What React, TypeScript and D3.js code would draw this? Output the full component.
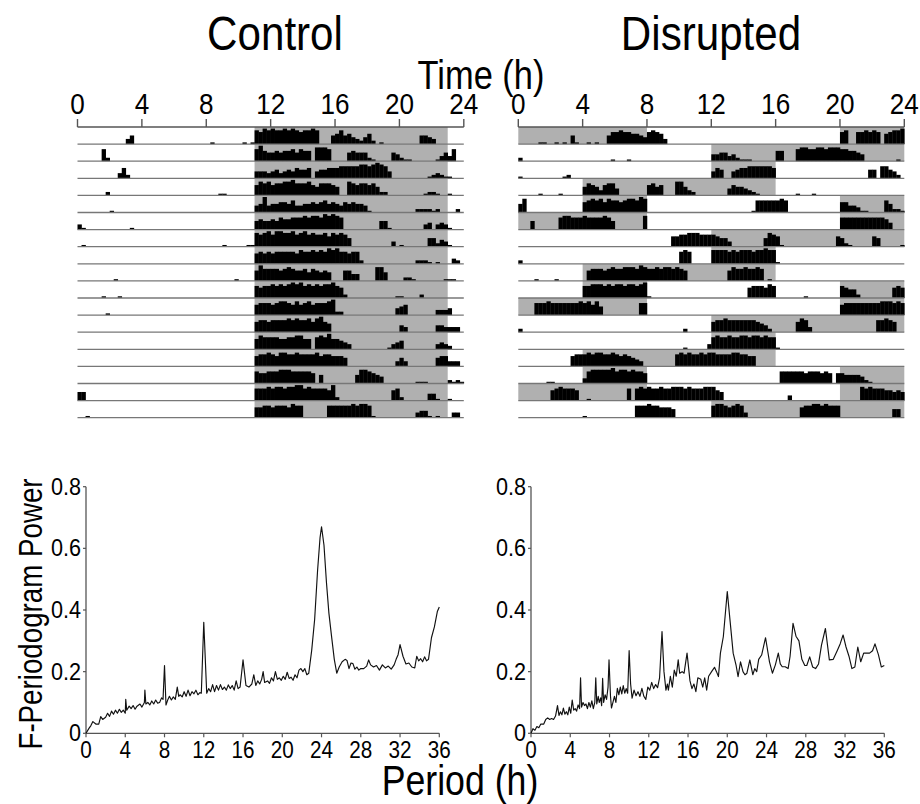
import React from 'react';
import * as d3 from 'd3';

const HOUR_TICKS = [0, 4, 8, 12, 16, 20, 24];
const PERIOD_TICKS = [0, 4, 8, 12, 16, 20, 24, 28, 32, 36];
const POWER_TICKS = [0, 0.2, 0.4, 0.6, 0.8];

// activity per row: "hour:dddd" = four 15-min bins (0-9 relative counts)
const CONTROL_ACTIVITY = [
  '3:3500 8:0100 10:0101 11:8798 12:9889 13:8987 14:8898 15:0005 16:6856 17:4324 18:6201 21:0554 22:3000',
  '1:0072 11:7965 12:5656 13:6757 14:6608 15:8870 16:0005 17:6555 18:2100 19:0054 20:2110 22:0135 23:3700',
  '2:0036 3:2000 11:4443 12:4534 13:5465 14:5604 15:5566 16:6777 17:7788 18:7898 19:7400 21:0001 22:2321 23:1000',
  '1:0002 8:0001 9:1000 11:6878 12:6778 13:8977 14:7865 15:7776 16:5008 17:7677 18:6752 19:2000 21:0012 22:2100 23:1000',
  '2:1000 11:4594 12:5566 13:5744 14:5565 15:6756 16:5465 17:6554 18:1000 21:2222 22:1200 23:0020',
  '0:3100 3:0100 11:5655 12:6576 13:6777 14:8788 15:7989 16:8700 18:0005 19:5100 21:0034 22:0343 23:1000',
  '0:0100 9:1000 10:0011 11:8789 12:7998 13:8978 14:9787 15:7868 16:7875 19:0030 20:1000 21:0005 22:5243 23:1000',
  '11:6767 12:6777 13:7768 14:7787 15:8798 16:9776 17:7720 21:2221 22:0100 23:0320',
  '2:0100 9:0001 11:6977 12:7767 13:8766 14:7576 15:5650 16:0066 17:4400 18:0088 19:5000 20:0221 22:0001 23:1100',
  '1:0010 2:0010 11:7677 12:8787 13:8989 14:7878 15:7889 16:7620 19:0001 20:1000 21:0200',
  '1:0001 11:6777 12:6788 13:7686 14:7867 15:7789 16:2200 19:0004 20:5600 22:0333 23:4000',
  '11:6776 12:7777 13:8787 14:7868 15:9650 20:4300 22:0443 23:3330',
  '11:6877 12:7766 13:7788 14:6607 15:8796 16:6543 19:0134 20:5000 22:0343 23:2000',
  '11:6778 12:7688 13:7787 14:7778 15:6776 16:6650 19:0003 20:5300 22:0566 23:3330',
  '11:7667 12:7788 13:8777 14:7760 15:5000 17:0588 18:7654 21:1110 23:2121',
  '0:5500 11:7778 12:7887 13:8899 14:7877 15:7769 16:2000 19:0067 20:2000 21:0004 22:4100 23:1000',
  '0:0010 11:6677 12:6777 13:6877 15:0077 16:7777 17:8788 18:7100 21:3441 22:0100 23:0330',
];
const CONTROL_DARK = CONTROL_ACTIVITY.map(() => [[11, 23]]);

const DISRUPTED_ACTIVITY = [
  '1:0110 2:0101 3:0510 4:0101 5:0057 6:7877 7:6654 8:7876 9:3000 20:7800 21:7787 22:8706 23:7889',
  '0:2000 5:0001 6:0001 12:4455 13:3421 14:1100 16:6600 17:0788 18:7788 19:7888 20:7766 21:5400 23:0010',
  '0:1000 2:0001 3:2000 12:4650 13:0456 14:6777 15:7776 21:0005 22:5077 23:5420',
  '1:0100 2:0010 4:5765 5:3677 6:4000 8:6756 9:0008 10:8532 13:4655 14:4321 17:0100 18:0100',
  '0:5800 4:6787 5:8687 6:7678 7:8798 14:0017 15:7777 16:7870 20:6644 21:3110 22:0007 23:5221',
  '0:0005 2:0078 3:8777 4:8777 5:7875 7:0008 20:7777 21:7777 22:7776 23:4000',
  '9:0066 10:7788 11:8777 12:7655 13:3000 15:0587 16:6100 19:0006 20:5210 22:6500 23:0001',
  '0:2000 10:7870 12:8888 13:7878 14:8878 15:8988 16:1000',
  '1:1000 2:0100 4:0677 5:7678 6:7788 7:8798 8:7787 9:8878 10:7600 13:6877 14:8778 15:7010',
  '4:7788 5:8787 6:8878 7:8789 8:1000 14:0677 15:7687 17:0001 20:7655 21:2000 23:0676',
  '1:7778 2:7777 3:7778 4:7868 5:5000 7:0077 20:6777 21:7777 22:7788 23:8787',
  '0:2000 10:0200 12:6778 13:7777 14:7776 15:5420 17:0687 18:3000 22:0778 23:7600',
  '10:0100 11:0003 12:7877 13:8778 14:8788 15:7877 16:1000',
  '3:0677 4:7878 5:8778 6:7676 7:5430 9:0007 10:8787 11:7878 12:8777 13:7887 14:7660',
  '1:0001 2:1000 4:3788 5:8889 6:7887 7:8776 16:0777 17:7776 18:7776 19:7606 20:6555 21:5421',
  '2:6787 3:7760 4:0100 6:0007 7:0787 8:8778 9:7788 10:8787 11:7788 12:8650 16:0003 21:0878 22:7776 23:6565',
  '4:1000 7:0777 8:8776 9:6650 12:7887 13:6787 14:3000 17:0067 18:7887 19:8777 23:0550',
];
const DISRUPTED_DARK = [
  [[0, 8], [20, 24]], [[12, 24]], [[12, 16]], [[4, 16]], [[4, 8], [20, 24]],
  [[0, 8], [20, 24]], [[12, 24]], [[12, 16]], [[4, 16]], [[4, 8], [20, 24]],
  [[0, 8], [20, 24]], [[12, 24]], [[12, 16]], [[4, 16]], [[4, 8], [20, 24]],
  [[0, 8], [20, 24]], [[12, 24]],
];

const CONTROL_POWER: [number, number][] = [
  [0,0],[0.3,0.016],[0.5,0.025],[0.7,0.038],[1.0,0.03],[1.3,0.03],[1.5,0.054],[1.7,0.045],[2.0,0.052],[2.2,0.065],[2.4,0.055],[2.6,0.072],[2.8,0.062],[3.0,0.075],[3.2,0.065],[3.4,0.078],[3.6,0.068],[3.8,0.075],[4.0,0.065],[4.05,0.11],[4.15,0.075],[4.4,0.088],[4.6,0.08],[4.8,0.09],[5.0,0.078],[5.2,0.088],[5.5,0.095],[5.7,0.085],[5.95,0.1],[6.0,0.14],[6.1,0.095],[6.3,0.1],[6.5,0.092],[6.7,0.105],[6.9,0.095],[7.1,0.108],[7.3,0.098],[7.5,0.1],[7.7,0.115],[7.85,0.11],[8.0,0.22],[8.15,0.092],[8.35,0.11],[8.5,0.12],[8.7,0.108],[8.9,0.118],[9.1,0.11],[9.3,0.15],[9.45,0.12],[9.6,0.125],[9.8,0.118],[10.0,0.135],[10.2,0.12],[10.4,0.14],[10.6,0.122],[10.8,0.135],[11.0,0.128],[11.2,0.14],[11.4,0.125],[11.6,0.132],[11.75,0.13],[12.0,0.36],[12.3,0.13],[12.5,0.145],[12.7,0.135],[12.9,0.158],[13.1,0.135],[13.3,0.155],[13.5,0.14],[13.7,0.158],[13.9,0.142],[14.1,0.15],[14.3,0.14],[14.5,0.157],[14.7,0.145],[14.9,0.155],[15.1,0.14],[15.3,0.17],[15.5,0.145],[15.7,0.15],[16.0,0.238],[16.3,0.155],[16.6,0.15],[16.9,0.16],[17.1,0.19],[17.3,0.155],[17.5,0.17],[17.7,0.16],[17.9,0.175],[18.05,0.2],[18.2,0.165],[18.5,0.17],[18.7,0.162],[18.9,0.18],[19.1,0.17],[19.3,0.2],[19.5,0.175],[19.7,0.18],[19.9,0.172],[20.1,0.185],[20.3,0.175],[20.5,0.198],[20.7,0.178],[20.9,0.182],[21.1,0.172],[21.3,0.19],[21.5,0.18],[21.7,0.205],[21.9,0.21],[22.1,0.2],[22.3,0.21],[22.5,0.19],[22.7,0.195],[23.0,0.27],[23.3,0.37],[23.6,0.53],[23.85,0.635],[24.0,0.67],[24.25,0.61],[24.5,0.49],[24.75,0.39],[25.0,0.32],[25.3,0.24],[25.55,0.195],[25.8,0.215],[26.1,0.232],[26.4,0.24],[26.6,0.236],[26.8,0.21],[27.0,0.228],[27.2,0.226],[27.4,0.208],[27.6,0.215],[27.8,0.205],[28.0,0.21],[28.3,0.21],[28.6,0.218],[28.8,0.238],[29.0,0.222],[29.3,0.215],[29.6,0.22],[29.9,0.205],[30.2,0.222],[30.5,0.212],[30.8,0.218],[31.1,0.208],[31.4,0.222],[31.6,0.24],[31.8,0.255],[32.0,0.288],[32.3,0.25],[32.6,0.225],[32.9,0.228],[33.2,0.215],[33.5,0.212],[33.7,0.25],[33.9,0.235],[34.1,0.242],[34.3,0.232],[34.5,0.248],[34.7,0.235],[34.9,0.24],[35.2,0.31],[35.5,0.345],[35.8,0.395],[36.0,0.41],
];

const DISRUPTED_POWER: [number, number][] = [
  [0,0],[0.2,0.015],[0.4,0.01],[0.6,0.022],[0.8,0.018],[1.0,0.03],[1.3,0.03],[1.5,0.045],[1.7,0.05],[1.9,0.045],[2.1,0.048],[2.3,0.045],[2.5,0.056],[2.7,0.09],[2.85,0.058],[3.0,0.07],[3.15,0.06],[3.3,0.082],[3.45,0.062],[3.6,0.07],[3.75,0.06],[3.9,0.085],[4.05,0.065],[4.2,0.108],[4.35,0.075],[4.5,0.08],[4.65,0.072],[4.8,0.092],[4.95,0.08],[5.05,0.18],[5.15,0.085],[5.3,0.1],[5.45,0.09],[5.6,0.095],[5.75,0.08],[5.9,0.1],[6.05,0.085],[6.2,0.105],[6.35,0.08],[6.5,0.1],[6.6,0.18],[6.7,0.095],[6.85,0.12],[6.95,0.1],[7.1,0.115],[7.2,0.09],[7.3,0.178],[7.4,0.1],[7.55,0.125],[7.7,0.11],[7.85,0.15],[7.95,0.238],[8.1,0.12],[8.2,0.082],[8.35,0.1],[8.5,0.12],[8.65,0.1],[8.8,0.146],[8.95,0.125],[9.1,0.15],[9.25,0.128],[9.4,0.155],[9.55,0.13],[9.7,0.145],[9.85,0.13],[10.0,0.268],[10.15,0.16],[10.3,0.114],[10.5,0.14],[10.7,0.122],[10.9,0.135],[11.1,0.12],[11.3,0.146],[11.5,0.12],[11.7,0.11],[11.9,0.15],[12.1,0.14],[12.3,0.165],[12.5,0.145],[12.7,0.158],[12.9,0.148],[13.1,0.18],[13.35,0.33],[13.55,0.2],[13.75,0.14],[13.9,0.16],[14.0,0.14],[14.2,0.185],[14.4,0.15],[14.6,0.205],[14.8,0.185],[15.0,0.238],[15.15,0.195],[15.4,0.2],[15.6,0.195],[15.9,0.26],[16.2,0.17],[16.4,0.145],[16.6,0.16],[16.8,0.135],[17.0,0.18],[17.3,0.175],[17.5,0.15],[17.7,0.18],[17.9,0.14],[18.1,0.185],[18.4,0.2],[18.7,0.214],[18.9,0.2],[19.1,0.184],[19.3,0.26],[19.6,0.314],[20.0,0.46],[20.3,0.36],[20.6,0.26],[20.9,0.22],[21.1,0.184],[21.35,0.232],[21.6,0.2],[21.8,0.19],[22.0,0.195],[22.3,0.238],[22.6,0.19],[22.8,0.21],[23.0,0.2],[23.2,0.24],[23.5,0.254],[23.9,0.31],[24.3,0.232],[24.6,0.195],[24.9,0.222],[25.2,0.26],[25.4,0.225],[25.6,0.216],[25.9,0.216],[26.2,0.21],[26.4,0.25],[26.7,0.357],[27.0,0.315],[27.3,0.3],[27.6,0.24],[27.9,0.22],[28.1,0.22],[28.4,0.248],[28.7,0.215],[29.0,0.21],[29.3,0.225],[29.6,0.286],[30.0,0.34],[30.4,0.238],[30.8,0.24],[31.2,0.268],[31.5,0.29],[31.8,0.319],[32.1,0.28],[32.4,0.25],[32.7,0.21],[33.0,0.215],[33.3,0.28],[33.6,0.232],[33.9,0.26],[34.2,0.26],[34.5,0.26],[34.8,0.268],[35.05,0.29],[35.4,0.255],[35.7,0.215],[36.0,0.22],
];

const FONT = "'Liberation Sans', Arial, Helvetica, sans-serif";
const SHADE = '#b0b0b0';
const AXIS = '#555';

function parseRow(s: string): number[] {
  const bins = new Array(96).fill(0);
  s.split(' ').filter(Boolean).forEach((tok) => {
    const [h, d] = tok.split(':');
    d.split('').forEach((c, i) => { bins[+h * 4 + i] = +c; });
  });
  return bins;
}

function Txt({ x, y, size, anchor = 'middle', sx = 0.85, rotate = 0, children }: any) {
  return (
    <text
      transform={`translate(${x},${y}) rotate(${rotate}) scale(${sx},1)`}
      fontSize={size}
      fontFamily={FONT}
      textAnchor={anchor}
      fill="#000"
    >
      {children}
    </text>
  );
}

function Actogram({ x0, x1, activity, dark }: { x0: number; x1: number; activity: string[]; dark: number[][][] }) {
  const axisY = 127;
  const x = d3.scaleLinear().domain([0, 24]).range([x0, x1]);
  const rowY = d3.scaleLinear().domain([0, activity.length]).range([axisY, axisY + 17.1 * activity.length]);
  const h = d3.scaleLinear().domain([0, 9]).range([0, 15.5]);
  const binW = x(0.25) - x(0);
  const rows = activity.map(parseRow);
  return (
    <g>
      {dark.map((segs, r) =>
        segs.map((s, j) => (
          <rect key={`s${r}-${j}`} x={x(s[0])} y={rowY(r)} width={x(s[1]) - x(s[0])} height={rowY(r + 1) - rowY(r)} fill={SHADE} />
        ))
      )}
      {rows.map((bins, r) =>
        bins.map((v, b) =>
          v > 0 ? (
            <rect key={`b${r}-${b}`} x={x(b / 4)} y={rowY(r + 1) - h(v)} width={binW + 0.3} height={h(v)} fill="#000" />
          ) : null
        )
      )}
      {rows.map((_, r) => (
        <line key={`l${r}`} x1={x(0)} x2={x(24)} y1={rowY(r + 1)} y2={rowY(r + 1)} stroke="#777" strokeWidth={1.3} />
      ))}
      <line x1={x(0)} x2={x(24)} y1={axisY} y2={axisY} stroke={AXIS} strokeWidth={1.6} />
      {HOUR_TICKS.map((t) => (
        <g key={`t${t}`}>
          <line x1={x(t)} x2={x(t)} y1={axisY} y2={axisY - 8} stroke={AXIS} strokeWidth={1.4} />
          <Txt x={x(t)} y={114} size={29} sx={0.9}>{t}</Txt>
        </g>
      ))}
    </g>
  );
}

function Periodogram({ x0, x1, data }: { x0: number; x1: number; data: [number, number][] }) {
  const x = d3.scaleLinear().domain([0, 36]).range([x0, x1]);
  const y = d3.scaleLinear().domain([0, 0.8]).range([733.3, 486.7]);
  const line = d3.line<[number, number]>().x((d) => x(d[0])).y((d) => y(d[1]));
  return (
    <g>
      <line x1={x0} x2={x0} y1={y(0.8)} y2={y(0)} stroke={AXIS} strokeWidth={1.3} />
      <line x1={x0} x2={x1} y1={y(0)} y2={y(0)} stroke={AXIS} strokeWidth={1.3} />
      {POWER_TICKS.map((t) => (
        <g key={`y${t}`}>
          <line x1={x0 - 3} x2={x0} y1={y(t)} y2={y(t)} stroke={AXIS} strokeWidth={1.2} />
          <Txt x={x0 - 5} y={y(t) + 8} size={24} sx={0.9} anchor="end">{t === 0 ? '0' : t.toFixed(1)}</Txt>
        </g>
      ))}
      {PERIOD_TICKS.map((t) => (
        <g key={`x${t}`}>
          <line x1={x(t)} x2={x(t)} y1={y(0)} y2={y(0) + 4} stroke={AXIS} strokeWidth={1.2} />
          <Txt x={x(t)} y={758} size={23} sx={0.9}>{t}</Txt>
        </g>
      ))}
      <path d={line(data) || ''} fill="none" stroke="#111" strokeWidth={1.15} strokeLinejoin="round" />
    </g>
  );
}

export default function App() {
  return (
    <svg width={920} height={804} style={{ display: 'block', position: 'absolute', left: 0, top: 0, background: '#fff' }}>
      <rect width={920} height={804} fill="#fff" />
      <Txt x={275} y={50} size={49} sx={0.86}>Control</Txt>
      <Txt x={711} y={50} size={49} sx={0.86}>Disrupted</Txt>
      <Txt x={481} y={89} size={41} sx={0.84}>Time (h)</Txt>
      <Actogram x0={77.5} x1={463.8} activity={CONTROL_ACTIVITY} dark={CONTROL_DARK} />
      <Actogram x0={518.3} x1={904.3} activity={DISRUPTED_ACTIVITY} dark={DISRUPTED_DARK} />
      <Periodogram x0={86} x1={439.3} data={CONTROL_POWER} />
      <Periodogram x0={531} x1={884.3} data={DISRUPTED_POWER} />
      <Txt x={460} y={795} size={42} sx={0.85}>Period (h)</Txt>
      <Txt x={42} y={614} size={33} sx={0.84} rotate={-90}>F-Periodogram Power</Txt>
    </svg>
  );
}
